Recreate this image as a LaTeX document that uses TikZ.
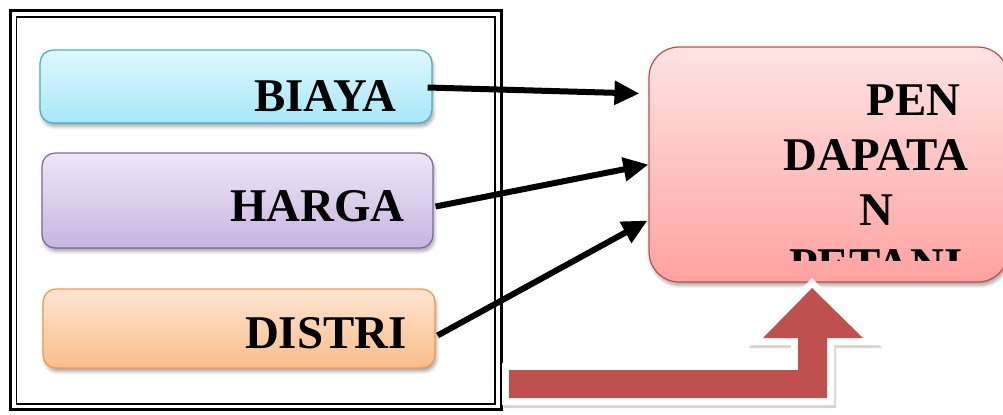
\documentclass[tikz,border=0pt]{standalone}
\usepackage{fontspec}
\setmainfont{Liberation Serif}
\usetikzlibrary{arrows.meta,calc,shadows.blur}

\definecolor{biayaline}{HTML}{4BACC6}
\definecolor{biayatop}{HTML}{E0F7FD}
\definecolor{biayabot}{HTML}{A6E7FA}
\definecolor{hargaline}{HTML}{8064A2}
\definecolor{hargatop}{HTML}{EEE7F6}
\definecolor{hargabot}{HTML}{C8B4E1}
\definecolor{distriline}{HTML}{F79646}
\definecolor{distritop}{HTML}{FEE5D2}
\definecolor{distribot}{HTML}{FBBD8A}
\definecolor{petaniline}{HTML}{C0504D}
\definecolor{petanitop}{HTML}{FEE3E3}
\definecolor{petanibot}{HTML}{FFA2A1}
\definecolor{panahmerah}{HTML}{C0504D}

\tikzset{
  kotak/.style={rounded corners=0.26cm, line width=0.7pt,
    blur shadow={shadow xshift=0.03cm, shadow yshift=-0.07cm, shadow blur steps=6, shadow opacity=35}},
  judul/.style={font=\bfseries\fontsize{26.7}{31.3}\selectfont, inner sep=0pt},
  panah/.style={line width=0.12cm, -{Triangle[length=0.5cm,width=0.46cm]}},
  bingkai/.style={line width=0.28cm, line join=miter},
}

\begin{document}
\begin{tikzpicture}[x=0.02cm,y=-0.02cm]
		\clip (0,0) rectangle (1003,414);

		\draw[line width=0.06cm] (10.5,10.5) rectangle (501,409.5);
		\draw[line width=0.04cm] (16.5,16.5) rectangle (495,404);

		\node[kotak, draw=biayaline, top color=biayatop, bottom color=biayabot,
		  minimum width=7.84cm, minimum height=1.46cm] (biaya) at (236,86.5) {};
		\node[kotak, draw=hargaline, top color=hargatop, bottom color=hargabot,
		  minimum width=7.82cm, minimum height=1.9cm] (harga) at (237.5,200.5) {};
		\node[kotak, draw=distriline, top color=distritop, bottom color=distribot,
		  minimum width=7.84cm, minimum height=1.58cm] (distri) at (239,328.5) {};
		\node[kotak, rounded corners=0.6cm, draw=petaniline, top color=petanitop, bottom color=petanibot,
		  minimum width=7.18cm, minimum height=4.7cm] (pendapatan) at (828.5,164.5) {};

		\node[judul, anchor=base east] (tbiaya) at (397,111) {BIAYA};
		\node[judul, anchor=base east] (tharga) at (405,221) {HARGA};
		\node[judul, anchor=base east] (tdistri) at (407,348) {DISTRI};
		\begin{scope}
			\clip (pendapatan.north west) rectangle (1003,260);
			\node[judul, anchor=base, align=center] (tpendapatan) at (876,280)
			  {\hspace*{1.6em}PEN\\DAPATA\\N\\PETANI};
		\end{scope}

		\draw[panah] ($(biaya.east)+(-5,1)$) -- ($(pendapatan.west)+(-9,-71)$);
		\draw[panah] ($(harga.east)+(2,6)$) -- (pendapatan.west);
		\draw[panah] ($(distri.east)+(2,7)$) -- ($(pendapatan.west)+(-1,56)$);

		% panah besar ke atas
		\draw[bingkai, black!16, fill=black!16, shift={(2,3)}]
		  (509,370) -- (798,370) -- (798,338) -- (763,338) -- (812,288) -- (863,338)
		  -- (827,338) -- (827,398) -- (509,398) -- cycle;
		\draw[bingkai, white, fill=white]
		  (509,370) -- (798,370) -- (798,338) -- (763,338) -- (812,288) -- (863,338)
		  -- (827,338) -- (827,398) -- (509,398) -- cycle;
		\fill[panahmerah] (509,370) -- (798,370) -- (798,338) -- (763,338) -- (812,288) -- (863,338)
		  -- (827,338) -- (827,398) -- (509,398) -- cycle;
	\end{tikzpicture}
\end{document}
